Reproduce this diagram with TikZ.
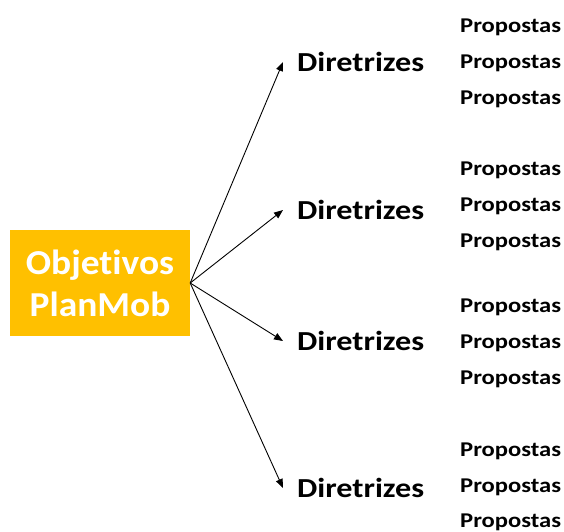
\documentclass[tikz,border=0pt]{standalone}
\usepackage{fontspec}
\setmainfont{Carlito}[Ligatures=NoCommon]
\newfontfamily\widefont{Carlito}[Ligatures=NoCommon, FakeStretch=1.17]
\newfontfamily\boxfont{Carlito}[Ligatures=NoCommon, FakeStretch=1.07]
\usetikzlibrary{arrows.meta, positioning}
\definecolor{planorange}{HTML}{FFC000}
\tikzstyle{objbox} = [rectangle, fill=planorange, text=white, minimum width=180pt, minimum height=106pt, align=center, inner sep=0pt, font=\boxfont\fontsize{35}{42}\selectfont\bfseries]
\tikzstyle{diretriz} = [anchor=west, inner xsep=14pt, inner ysep=0pt, font=\widefont\fontsize{27.5}{32}\selectfont\bfseries]
\tikzstyle{proposta} = [anchor=west, inner sep=0pt, font=\widefont\fontsize{21}{24}\selectfont\bfseries]
\tikzstyle{arrow} = [line width=0.9pt, -{Triangle[length=9pt, width=7pt]}, color=black]

\begin{document}
\begin{tikzpicture}[x=1pt, y=-1pt]
    \useasboundingbox (0,0) rectangle (564,531);
    % Objetivos
    \node[objbox] (obj) at (100,283) {Objetivos\\PlanMob};

    % Diretrizes
    \node[diretriz] (d1) at (283,62) {Diretrizes};
    \node[diretriz] (d2) at (283,210) {Diretrizes};
    \node[diretriz] (d3) at (283,341) {Diretrizes};
    \node[diretriz] (d4) at (283,488) {Diretrizes};

    % Propostas
    \node[proposta] (p11) at (460,27) {Propostas};
    \node[proposta] (p12) at (460,63) {Propostas};
    \node[proposta] (p13) at (460,99) {Propostas};
    \node[proposta] (p21) at (460,170) {Propostas};
    \node[proposta] (p22) at (460,206) {Propostas};
    \node[proposta] (p23) at (460,242) {Propostas};
    \node[proposta] (p31) at (460,307) {Propostas};
    \node[proposta] (p32) at (460,343) {Propostas};
    \node[proposta] (p33) at (460,379) {Propostas};
    \node[proposta] (p41) at (460,451) {Propostas};
    \node[proposta] (p42) at (460,487) {Propostas};
    \node[proposta] (p43) at (460,522) {Propostas};

    % Arrows
    \draw[arrow] (obj.east) -- (d1.west);
    \draw[arrow] (obj.east) -- (d2.west);
    \draw[arrow] (obj.east) -- (d3.west);
    \draw[arrow] (obj.east) -- (d4.west);
\end{tikzpicture}
\end{document}
